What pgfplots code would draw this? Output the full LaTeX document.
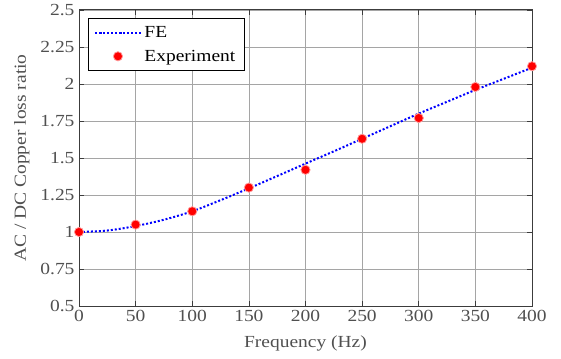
\documentclass[border=0pt]{standalone}
\usepackage{pgfplots}
\pgfplotsset{compat=1.18}
\usepackage{fontspec}
\setmainfont{Liberation Serif}[FakeStretch=1.15]
\definecolor{txtgray}{RGB}{80,80,80}
\definecolor{axgray}{RGB}{60,60,60}
\definecolor{gridgray}{RGB}{165,165,165}
\begin{document}
\begin{tikzpicture}
\path[use as bounding box] (-79bp,-53bp) rectangle (482bp,306bp);
\begin{axis}[
  scale only axis,
  width=453bp, height=296bp,
  at={(0,0)}, anchor=south west,
  xmin=0, xmax=400, ymin=0.5, ymax=2.5,
  xtick={0,50,...,400},
  ytick={0.5,0.75,1,1.25,1.5,1.75,2,2.25,2.5},
  yticklabels={0.5,0.75,1,1.25,1.5,1.75,2,2.25,2.5},
  /pgf/number format/assume math mode=true,
  tick align=inside,
  major tick length=5bp,
  tick style={axgray, line width=0.6pt},
  axis line style={axgray, line width=1pt},
  grid=major,
  major grid style={gridgray, line width=0.6pt},
  tick label style={font=\fontsize{17}{20}\selectfont, text=txtgray},
  yticklabel style={xshift=-1bp},
  xticklabel style={yshift=-1bp},
  xlabel={Frequency (Hz)},
  ylabel={AC / DC Copper loss ratio},
  every axis x label/.style={at={(axis description cs:0.5,-0.125)}, anchor=center, font=\fontsize{17}{20}\selectfont, text=txtgray},
  every axis y label/.style={at={(axis description cs:-0.126,0.5)}, rotate=90, anchor=center, font=\fontsize{17}{20}\selectfont, text=txtgray},
  legend style={at={(axis description cs:0.02,0.973)}, anchor=north west,
    draw=black, line width=0.8pt, fill=white,
    font=\fontsize{17}{20}\selectfont, text=black,
    inner xsep=6bp, inner ysep=6bp, row sep=7bp,
    nodes={inner xsep=3bp}},
  legend cell align=left,
  legend image code/.code={\draw[#1, mark repeat=2, mark phase=2] plot coordinates {(0bp,0bp)(22.5bp,0bp)(45bp,0bp)};},
]
\addplot[blue, line width=2pt, dash pattern=on 2pt off 2pt, smooth] coordinates {
(0,1.000) (25,1.010) (50,1.040) (75,1.083) (100,1.140) (125,1.215) (150,1.295)
(175,1.378) (200,1.462) (225,1.545) (250,1.630) (275,1.715) (300,1.800)
(325,1.880) (350,1.960) (375,2.035) (400,2.110)};
\addlegendentry{FE}
\addplot[only marks, mark=*, mark size=4.6bp, draw=red, fill=red, mark options={draw=red!40, line width=0.8pt, fill=red}] coordinates {
(0,1.00) (50,1.05) (100,1.14) (150,1.30) (200,1.42) (250,1.63) (300,1.77) (350,1.98) (400,2.12)};
\addlegendentry{Experiment}
\end{axis}
\end{tikzpicture}
\end{document}
